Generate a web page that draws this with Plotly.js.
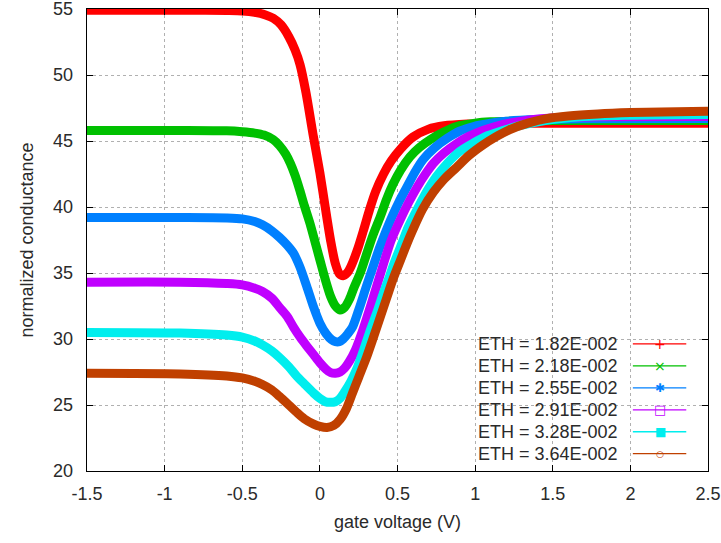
<!DOCTYPE html>
<html>
<head>
<meta charset="utf-8">
<script src="https://cdn.plot.ly/plotly-3.0.1.min.js"></script>
<style>
  html, body { margin: 0; padding: 0; background: #fff; }
  #chart { width: 721px; height: 543px; }
</style>
</head>
<body>
<div id="chart"></div>
<script>
// Series names (legend labels)
const seriesNames = [
  "ETH = 1.82E-002",
  "ETH = 2.18E-002",
  "ETH = 2.55E-002",
  "ETH = 2.91E-002",
  "ETH = 3.28E-002",
  "ETH = 3.64E-002"
];

// Values: gate voltage (V) vs normalized conductance
const x1 = [-1.5, -0.8, -0.6, -0.5, -0.42, -0.35, -0.3, -0.25, -0.2, -0.16, -0.128, -0.09, -0.044, 0.0, 0.033, 0.07, 0.1, 0.125, 0.15, 0.175, 0.2, 0.24, 0.28, 0.32, 0.36, 0.41, 0.46, 0.52, 0.6, 0.7, 0.8, 0.95, 1.1, 1.5, 2.5];
const y1 = [54.9, 54.9, 54.88, 54.85, 54.75, 54.55, 54.3, 53.8, 52.9, 51.9, 50.8, 48.7, 45.5, 42.6, 40.1, 37.4, 35.7, 34.95, 34.8, 35.0, 35.5, 36.7, 38.2, 39.8, 41.2, 42.5, 43.5, 44.4, 45.3, 45.9, 46.15, 46.28, 46.33, 46.35, 46.35];

const x2 = [-1.5, -0.9, -0.6, -0.5, -0.42, -0.36, -0.3, -0.26, -0.22, -0.19, -0.16, -0.13, -0.1, -0.06, -0.03, 0.0, 0.035, 0.07, 0.1, 0.13, 0.16, 0.19, 0.22, 0.26, 0.3, 0.34, 0.39, 0.43, 0.47, 0.52, 0.58, 0.64, 0.71, 0.8, 0.88, 1.0, 1.1, 1.3, 1.6, 2.5];
const y2 = [45.8, 45.8, 45.77, 45.7, 45.6, 45.45, 45.1, 44.65, 44.0, 43.3, 42.4, 41.3, 40.1, 38.6, 37.3, 36.0, 34.5, 33.2, 32.5, 32.2, 32.4, 33.0, 33.9, 35.0, 36.4, 37.8, 39.3, 40.6, 41.7, 42.8, 43.8, 44.5, 45.1, 45.7, 46.1, 46.35, 46.45, 46.52, 46.55, 46.55];

const x3 = [-1.5, -0.9, -0.6, -0.5, -0.42, -0.37, -0.31, -0.26, -0.21, -0.17, -0.13, -0.085, -0.04, 0.0, 0.04, 0.075, 0.1, 0.125, 0.15, 0.18, 0.21, 0.25, 0.3, 0.34, 0.387, 0.43, 0.47, 0.51, 0.56, 0.61, 0.665, 0.74, 0.82, 0.9, 0.99, 1.1, 1.2, 1.4, 1.7, 2.5];
const y3 = [39.2, 39.2, 39.17, 39.1, 38.9, 38.65, 38.2, 37.7, 37.1, 36.5, 35.5, 34.0, 32.4, 31.2, 30.4, 29.95, 29.8, 29.8, 30.0, 30.4, 30.9, 32.2, 34.0, 35.4, 37.0, 38.3, 39.4, 40.4, 41.5, 42.6, 43.6, 44.5, 45.2, 45.75, 46.1, 46.35, 46.5, 46.62, 46.68, 46.7];

const x4 = [-1.5, -0.9, -0.6, -0.5, -0.42, -0.37, -0.31, -0.26, -0.21, -0.17, -0.125, -0.08, -0.04, 0.0, 0.04, 0.07, 0.1, 0.13, 0.16, 0.19, 0.23, 0.28, 0.34, 0.41, 0.46, 0.52, 0.57, 0.626, 0.68, 0.73, 0.8, 0.88, 0.96, 1.05, 1.13, 1.22, 1.35, 1.5, 1.8, 2.5];
const y4 = [34.3, 34.3, 34.2, 34.1, 33.85, 33.6, 33.1, 32.4, 31.7, 30.9, 30.1, 29.4, 28.8, 28.2, 27.7, 27.45, 27.4, 27.5, 27.8, 28.3, 29.2, 30.8, 33.0, 35.7, 37.5, 39.1, 40.3, 41.5, 42.5, 43.3, 44.1, 44.8, 45.35, 45.8, 46.1, 46.35, 46.6, 46.75, 46.83, 46.85];

const x5 = [-1.5, -0.9, -0.6, -0.5, -0.42, -0.37, -0.31, -0.26, -0.2, -0.15, -0.1, -0.04, 0.0, 0.035, 0.065, 0.1, 0.13, 0.16, 0.2, 0.24, 0.28, 0.32, 0.37, 0.41, 0.45, 0.48, 0.53, 0.57, 0.63, 0.69, 0.75, 0.82, 0.9, 0.99, 1.08, 1.18, 1.3, 1.45, 1.7, 2.0, 2.5];
const y5 = [30.5, 30.45, 30.3, 30.15, 29.85, 29.55, 29.1, 28.6, 27.9, 27.2, 26.6, 25.9, 25.5, 25.25, 25.2, 25.25, 25.5, 26.0, 26.8, 27.8, 29.1, 30.5, 32.1, 33.5, 34.8, 35.8, 37.3, 38.5, 39.9, 41.2, 42.3, 43.3, 44.2, 44.85, 45.4, 45.8, 46.2, 46.55, 46.85, 46.95, 47.0];

const x6 = [-1.5, -0.9, -0.6, -0.5, -0.42, -0.37, -0.31, -0.26, -0.2, -0.15, -0.1, -0.04, 0.0, 0.046, 0.09, 0.13, 0.17, 0.21, 0.25, 0.3, 0.35, 0.39, 0.43, 0.47, 0.52, 0.56, 0.6, 0.66, 0.73, 0.8, 0.88, 0.96, 1.05, 1.13, 1.22, 1.34, 1.46, 1.6, 1.79, 2.0, 2.2, 2.5];
const y6 = [27.4, 27.35, 27.2, 27.05, 26.8, 26.55, 26.15, 25.65, 25.0, 24.45, 23.95, 23.55, 23.38, 23.3, 23.45, 23.9, 24.7, 25.9, 27.1, 28.6, 30.3, 31.7, 33.1, 34.5, 36.0, 37.2, 38.3, 39.8, 41.1, 42.1, 43.0, 43.9, 44.7, 45.3, 45.85, 46.35, 46.7, 46.9, 47.05, 47.15, 47.2, 47.25];

// Tick labels
const xTickVals = [-1.5, -1, -0.5, 0, 0.5, 1, 1.5, 2, 2.5];
const xTickText = ["-1.5", "-1", "-0.5", "0", "0.5", "1", "1.5", "2", "2.5"];
const yTickVals = [20, 25, 30, 35, 40, 45, 50, 55];
const yTickText = ["20", "25", "30", "35", "40", "45", "50", "55"];

const colors = ["#ff0000", "#00c000", "#0080ff", "#c000ff", "#00eeee", "#c04000"];
const glyphs = ["+", "×", "✱", "□", "■", "○"];
const glyphSizes = [14, 14, 12, 13, 12, 9];

const xs = [x1, x2, x3, x4, x5, x6];
const ys = [y1, y2, y3, y4, y5, y6];

const FONT = "Liberation Sans, Arial, sans-serif";
const TXT = "#2a2a2a";

const traces = xs.map((xv, i) => ({
  x: xv,
  y: ys[i],
  type: "scatter",
  mode: "lines",
  name: seriesNames[i],
  line: { color: colors[i], width: 9, shape: "spline", smoothing: 0.8 },
  showlegend: false,
  hoverinfo: "x+y+name"
}));

// Custom gnuplot-style key: text right-aligned, sample line on the right
const keyTop = 0.275, keyStep = 0.0475;
const shapes = [{
  type: "rect", xref: "paper", yref: "paper",
  x0: 0.588, x1: 0.997, y0: 0.003, y1: 0.298,
  fillcolor: "#ffffff", line: { width: 0 }, layer: "between"
}];
const annotations = [];
seriesNames.forEach((nm, i) => {
  const yy = keyTop - i * keyStep;
  annotations.push({
    xref: "paper", yref: "paper", x: 0.858, y: yy,
    xanchor: "right", yanchor: "middle", showarrow: false,
    text: nm, font: { family: FONT, size: 18, color: TXT }
  });
  shapes.push({
    type: "line", xref: "paper", yref: "paper",
    x0: 0.879, x1: 0.965, y0: yy, y1: yy,
    line: { color: colors[i], width: 1.3 }
  });
  annotations.push({
    xref: "paper", yref: "paper", x: 0.923, y: yy,
    xanchor: "center", yanchor: "middle", showarrow: false,
    text: glyphs[i], font: { family: "DejaVu Sans", size: glyphSizes[i], color: colors[i] }
  });
});

const axisCommon = {
  showline: true, linecolor: "#000", linewidth: 1.3,
  mirror: "ticks", ticks: "inside", ticklen: 6, tickcolor: "#000", tickwidth: 1,
  showgrid: true, gridcolor: "#b0b0b0", griddash: "dot", gridwidth: 1,
  zeroline: false, ticklabeloverflow: "allow",
  tickfont: { family: FONT, size: 18, color: TXT }
};

const layout = {
  width: 721, height: 543,
  margin: { l: 87, r: 13, t: 9, b: 72 },
  paper_bgcolor: "#fff", plot_bgcolor: "#fff",
  showlegend: false,
  xaxis: Object.assign({}, axisCommon, {
    range: [-1.5, 2.5], tickmode: "array", tickvals: xTickVals, ticktext: xTickText,
    ticklabelstandoff: 6,
    title: { text: "gate voltage (V)", font: { family: FONT, size: 18, color: TXT }, standoff: 12 }
  }),
  yaxis: Object.assign({}, axisCommon, {
    range: [20, 55], tickmode: "array", tickvals: yTickVals, ticktext: yTickText,
    ticklabelstandoff: 9,
    title: { text: "normalized conductance", font: { family: FONT, size: 18, color: TXT }, standoff: 14 }
  }),
  shapes: shapes,
  annotations: annotations
};

Plotly.newPlot("chart", traces, layout, { staticPlot: true, displayModeBar: false });
</script>
</body>
</html>
